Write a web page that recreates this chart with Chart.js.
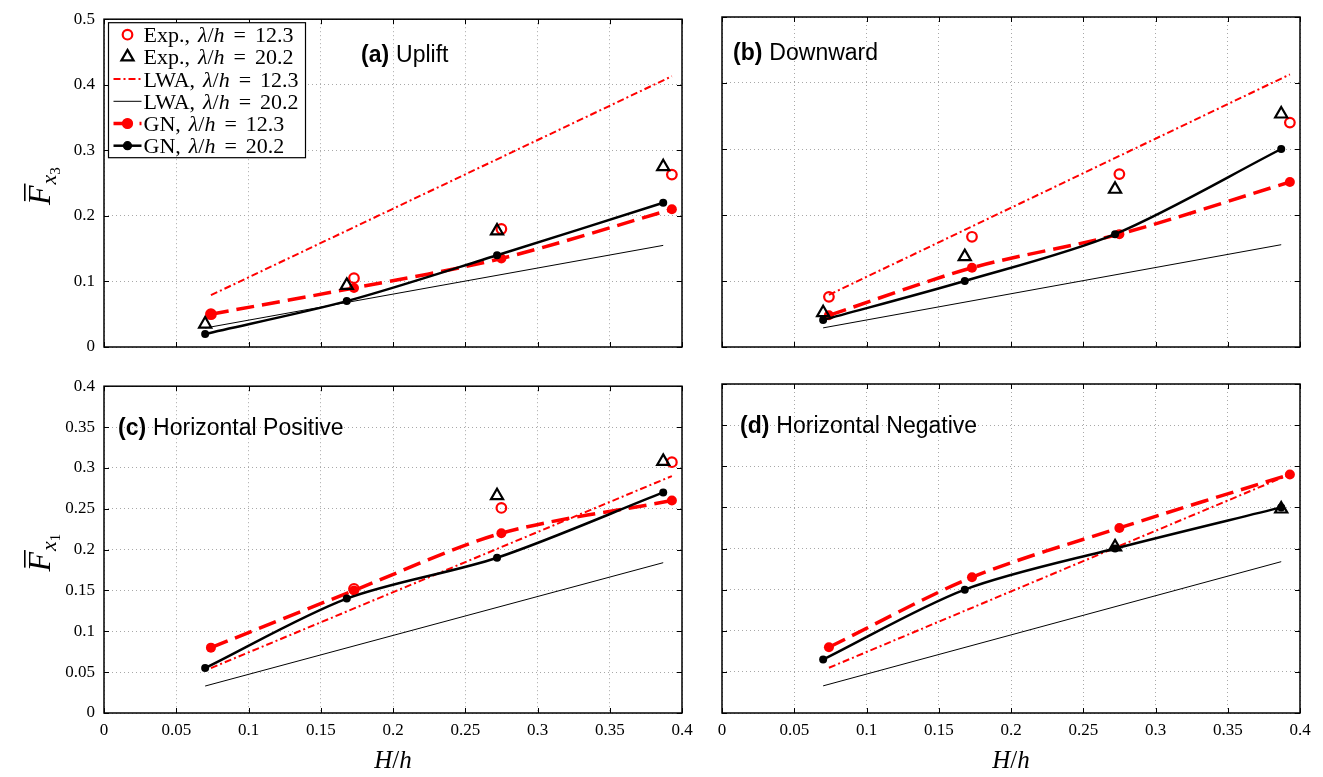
<!DOCTYPE html>
<html>
<head>
<meta charset="utf-8">
<script src="https://cdn.jsdelivr.net/npm/chart.js@4.4.1/dist/chart.umd.min.js"></script>
<style>
    html, body { margin: 0; padding: 0; background: #fff; }
    body { width: 1323px; height: 777px; position: relative; overflow: hidden; }
    canvas { position: absolute; }
</style>
</head>
<body>
<canvas id="panel-a" width="700" height="367" style="left:0;top:0"></canvas>
<canvas id="panel-b" width="700" height="367" style="left:618px;top:0"></canvas>
<canvas id="panel-c" width="700" height="410" style="left:0;top:367px"></canvas>
<canvas id="panel-d" width="700" height="410" style="left:618px;top:367px"></canvas>
<script>
// #region Datos
// H/h of the measured / computed points
var xLam12 = [0.074, 0.173, 0.275, 0.393];
var xLam20 = [0.07, 0.168, 0.272, 0.387];
var xLwa12 = [0.074, 0.393];
var xLwa20 = [0.07, 0.387];

// (a) Uplift
var expA12 = [0.05, 0.105, 0.18, 0.263];
var expA20 = [0.035, 0.094, 0.177, 0.275];
var gnA12 = [0.05, 0.09, 0.135, 0.21];
var gnA20 = [0.02, 0.07, 0.14, 0.22];
var lwaA12 = [0.079, 0.413];
var lwaA20 = [0.029, 0.155];

// (b) Downward
var expB12 = [0.076, 0.167, 0.262, 0.34];
var expB20 = [0.052, 0.137, 0.239, 0.353];
var gnB12 = [0.048, 0.12, 0.171, 0.25];
var gnB20 = [0.041, 0.10, 0.171, 0.30];
var lwaB12 = [0.079, 0.413];
var lwaB20 = [0.029, 0.155];

// (c) Horizontal Positive
var expC12 = [null, 0.152, 0.251, 0.307];
var expC20 = [null, null, 0.266, 0.308];
var gnC12 = [0.08, 0.15, 0.22, 0.26];
var gnC20 = [0.055, 0.14, 0.19, 0.27];
var lwaC12 = [0.055, 0.29];
var lwaC20 = [0.033, 0.184];

// (d) Horizontal Negative
var expD12 = [null, null, null, null];
var expD20 = [null, null, 0.202, 0.248];
var gnD12 = [0.08, 0.165, 0.225, 0.29];
var gnD20 = [0.065, 0.15, 0.2, 0.25];
var lwaD12 = [0.055, 0.29];
var lwaD20 = [0.033, 0.184];

var xTicks = [0, 0.4, 0.05];
var yTicksTop = [0, 0.5, 0.1];
var yTicksBottom = [0, 0.4, 0.05];

// #region Estilo
var serif = "'Liberation Serif', 'DejaVu Serif', serif";
var sans = "'Liberation Sans', Arial, sans-serif";
var rojo = "#ff0000";

function pts(xs, ys) {
    return xs.map(function (x, i) { return { x: x, y: ys[i] }; });
}

function datasets(exp12, exp20, gn12, gn20, lwa12, lwa20) {
    return [
        {
            key: "exp20", name: "Exp.,", lam: "20.2",
            data: pts(xLam20, exp20), showLine: false,
            pointStyle: "triangle", pointRadius: 7, pointBorderWidth: 2.2,
            pointBorderColor: "#000", pointBackgroundColor: "rgba(0,0,0,0)",
        },
        {
            key: "exp12", name: "Exp.,", lam: "12.3",
            data: pts(xLam12, exp12), showLine: false,
            pointStyle: "circle", pointRadius: 4.8, pointBorderWidth: 2.2,
            pointBorderColor: rojo, pointBackgroundColor: "rgba(0,0,0,0)",
        },
        {
            key: "gn20", name: "GN,", lam: "20.2",
            data: pts(xLam20, gn20), showLine: true, tension: 0.3,
            borderColor: "#000", borderWidth: 2.5,
            pointRadius: 4, pointBorderWidth: 0,
            pointBorderColor: "#000", pointBackgroundColor: "#000",
        },
        {
            key: "gn12", name: "GN,", lam: "12.3",
            data: pts(xLam12, gn12), showLine: true, tension: 0.3,
            borderColor: rojo, borderWidth: 3.5, borderDash: [18, 8],
            pointRadius: 5, pointBorderWidth: 0,
            pointBorderColor: rojo, pointBackgroundColor: rojo,
        },
        {
            key: "lwa12", name: "LWA,", lam: "12.3",
            data: pts(xLwa12, lwa12), showLine: true,
            borderColor: rojo, borderWidth: 2, borderDash: [7, 3, 2, 3],
            pointRadius: 0,
        },
        {
            key: "lwa20", name: "LWA,", lam: "20.2",
            data: pts(xLwa20, lwa20), showLine: true,
            borderColor: "#000", borderWidth: 1,
            pointRadius: 0,
        },
    ];
}

function drawRuns(ctx, x, y, runs) {
    runs.forEach(function (r) {
        ctx.font = r.font;
        x += r.pre || 0;
        ctx.fillText(r.text, x, y + (r.dy || 0));
        x += ctx.measureText(r.text).width;
    });
    return x;
}

function runsWidth(ctx, runs) {
    var w = 0;
    runs.forEach(function (r) {
        ctx.font = r.font;
        w += (r.pre || 0) + ctx.measureText(r.text).width;
    });
    return w;
}

function drawMarker(ctx, ds, x, y) {
    var r = ds.pointRadius;
    if (!r) return;
    ctx.save();
    ctx.lineWidth = ds.pointBorderWidth || 0;
    ctx.strokeStyle = ds.pointBorderColor;
    ctx.fillStyle = ds.pointBackgroundColor;
    ctx.beginPath();
    if (ds.pointStyle === "triangle") {
        var a = 2 * Math.PI / 3;
        ctx.moveTo(x, y - r);
        ctx.lineTo(x + r * Math.sin(a), y - r * Math.cos(a));
        ctx.lineTo(x - r * Math.sin(a), y - r * Math.cos(a));
        ctx.closePath();
    } else {
        ctx.arc(x, y, r, 0, 2 * Math.PI);
    }
    ctx.fill();
    if (ctx.lineWidth > 0) ctx.stroke();
    ctx.restore();
}

function drawLegend(chart) {
    var ctx = chart.ctx;
    var a = chart.chartArea;
    var order = ["exp12", "exp20", "lwa12", "lwa20", "gn12", "gn20"];
    var left = a.left + 4.5, top = a.top + 3.5, w = 197, h = 135;
    ctx.save();
    ctx.fillStyle = "#fff";
    ctx.fillRect(left, top, w, h);
    ctx.strokeStyle = "#000";
    ctx.lineWidth = 1.2;
    ctx.strokeRect(left, top, w, h);
    order.forEach(function (key, i) {
        var ds = chart.data.datasets.filter(function (d) { return d.key === key; })[0];
        var cy = top + 12 + i * 22.2;
        if (ds.showLine) {
            ctx.save();
            ctx.strokeStyle = ds.borderColor;
            ctx.lineWidth = ds.borderWidth;
            ctx.setLineDash(ds.borderDash || []);
            ctx.beginPath();
            ctx.moveTo(left + 5, cy);
            ctx.lineTo(left + 33, cy);
            ctx.stroke();
            ctx.restore();
        }
        drawMarker(ctx, ds, left + 19, cy);
        ctx.fillStyle = "#000";
        drawRuns(ctx, left + 35, cy + 7.5, [
            { text: ds.name, font: "22px " + serif },
            { text: "λ", font: "italic 22px " + serif, pre: 8 },
            { text: "/", font: "22px " + serif },
            { text: "h", font: "italic 22px " + serif },
            { text: "=", font: "22px " + serif, pre: 9 },
            { text: ds.lam, font: "22px " + serif, pre: 9 },
        ]);
    });
    ctx.restore();
}

function drawYTitle(ctx, a, sub) {
    var cy = (a.top + a.bottom) / 2;
    ctx.save();
    ctx.translate(a.left - 54, cy + 22);
    ctx.rotate(-Math.PI / 2);
    ctx.fillStyle = "#000";
    ctx.font = "italic 32px " + serif;
    ctx.fillText("F", 0, 0);
    var wF = ctx.measureText("F").width;
    ctx.fillRect(4, -26, wF - 2, 1.6);
    ctx.font = "italic 22px " + serif;
    ctx.fillText("x", wF + 1, 6);
    var wx = ctx.measureText("x").width;
    ctx.font = "15px " + serif;
    ctx.fillText(sub, wF + 1 + wx, 10);
    ctx.restore();
}

function drawXTitle(ctx, a) {
    var runs = [
        { text: "H", font: "italic 25px " + serif },
        { text: "/", font: "25px " + serif },
        { text: "h", font: "italic 25px " + serif },
    ];
    var w = runsWidth(ctx, runs);
    ctx.fillStyle = "#000";
    drawRuns(ctx, (a.left + a.right) / 2 - w / 2, a.bottom + 55, runs);
}

function drawFrame(chart) {
    var ctx = chart.ctx, a = chart.chartArea;
    var xs = chart.scales.x, ys = chart.scales.y;
    ctx.save();
    ctx.strokeStyle = "#000";
    ctx.lineWidth = 1;
    ctx.beginPath();
    xs.ticks.forEach(function (t) {
        var px = Math.round(xs.getPixelForValue(t.value)) + 0.5;
        ctx.moveTo(px, a.bottom); ctx.lineTo(px, a.bottom - 5);
        ctx.moveTo(px, a.top); ctx.lineTo(px, a.top + 5);
    });
    ys.ticks.forEach(function (t) {
        var py = Math.round(ys.getPixelForValue(t.value)) + 0.5;
        ctx.moveTo(a.left, py); ctx.lineTo(a.left + 5, py);
        ctx.moveTo(a.right, py); ctx.lineTo(a.right - 5, py);
    });
    ctx.stroke();
    ctx.lineWidth = 1.5;
    ctx.strokeRect(a.left, a.top, a.right - a.left, a.bottom - a.top);
    ctx.restore();
}

var figurePlugin = {
    id: "figText",
    afterDraw: function (chart, args, opts) {
        var ctx = chart.ctx, a = chart.chartArea;
        drawFrame(chart);
        ctx.save();
        ctx.fillStyle = "#000";
        drawRuns(ctx, a.left + opts.dx, a.top + opts.dy + 8, [
            { text: opts.tag, font: "bold 23px " + sans },
            { text: opts.name, font: "23px " + sans, pre: 7 },
        ]);
        if (opts.ySub) drawYTitle(ctx, a, opts.ySub);
        if (opts.xTitle) drawXTitle(ctx, a);
        ctx.restore();
        if (opts.legend) drawLegend(chart);
    },
};

function fmt(v) {
    return String(+v.toFixed(3));
}

function panel(id, sets, yRange, cfg) {
    var ctx = document.getElementById(id).getContext("2d");
    return new Chart(ctx, {
        type: "scatter",
        data: { datasets: sets },
        plugins: [figurePlugin],
        options: {
            responsive: false,
            animation: false,
            layout: { padding: { left: 0, right: 18, top: 17, bottom: 0 } },
            scales: {
                x: {
                    type: "linear",
                    min: xTicks[0], max: xTicks[1],
                    afterFit: function (s) { s.height = cfg.xHeight; },
                    ticks: {
                        display: cfg.xLabels, stepSize: xTicks[2], padding: 7,
                        autoSkip: false, maxRotation: 0, callback: fmt,
                        color: "#000", font: { family: serif, size: 17 },
                    },
                    grid: { color: "#a8a8a8", lineWidth: 1, drawTicks: false },
                    border: { display: false, dash: [1, 3] },
                },
                y: {
                    type: "linear",
                    min: yRange[0], max: yRange[1],
                    afterFit: function (s) { s.width = 104; },
                    ticks: {
                        display: cfg.yLabels, stepSize: yRange[2], padding: 9,
                        autoSkip: false, callback: fmt,
                        color: "#000", font: { family: serif, size: 17 },
                    },
                    grid: { color: "#a8a8a8", lineWidth: 1, drawTicks: false },
                    border: { display: false, dash: [1, 3] },
                },
            },
            plugins: {
                legend: { display: false },
                tooltip: { enabled: false },
                figText: cfg.text,
            },
        },
    });
}

// #region Paneles
panel("panel-a", datasets(expA12, expA20, gnA12, gnA20, lwaA12, lwaA20), yTicksTop, {
    xHeight: 20, xLabels: false, yLabels: true,
    text: { tag: "(a)", name: "Uplift", dx: 257, dy: 35, ySub: "3", legend: true },
});
panel("panel-b", datasets(expB12, expB20, gnB12, gnB20, lwaB12, lwaB20), yTicksTop, {
    xHeight: 20, xLabels: false, yLabels: false,
    text: { tag: "(b)", name: "Downward", dx: 11, dy: 35 },
});
panel("panel-c", datasets(expC12, expC20, gnC12, gnC20, lwaC12, lwaC20), yTicksBottom, {
    xHeight: 64, xLabels: true, yLabels: true,
    text: { tag: "(c)", name: "Horizontal Positive", dx: 14, dy: 41, ySub: "1", xTitle: true },
});
panel("panel-d", datasets(expD12, expD20, gnD12, gnD20, lwaD12, lwaD20), yTicksBottom, {
    xHeight: 64, xLabels: true, yLabels: false,
    text: { tag: "(d)", name: "Horizontal Negative", dx: 18, dy: 41, xTitle: true },
});
</script>
</body>
</html>
